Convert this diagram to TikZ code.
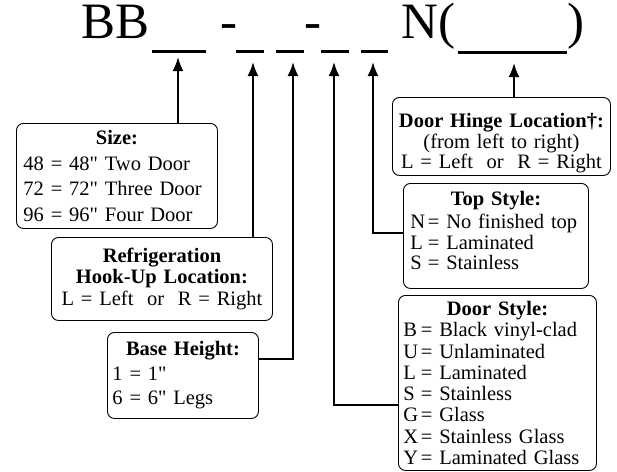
\documentclass[tikz,border=0pt]{standalone}
\usepackage{fontspec}
\setmainfont{Liberation Serif}[Ligatures=TeXOff]
\usepackage{tikz}
\usetikzlibrary{arrows.meta}
\colorlet{lineColor}{black}
\newcommand{\keyletter}[1]{\makebox[0.85em][l]{#1}=}

\begin{document}
\begin{tikzpicture}[x=1pt, y=-1pt,
    infobox/.style={draw=lineColor, rounded corners=7pt, line width=0.9pt, inner ysep=0pt, anchor=north west},
    blank/.style={draw=lineColor, line width=3pt},
    pointer/.style={draw=lineColor, line width=2pt, -{Latex[length=14pt, width=11pt]}},
    title/.style={anchor=base west, inner sep=0pt, font=\fontsize{51}{51}\selectfont}]
	\useasboundingbox (0,0) rectangle (617,471);

	% --- Bestellnummer ---
	\node[title] (bb) at (81,38) {BB};
	\node[title] (dashA) at (220,38) {-};
	\node[title] (dashB) at (304,38) {-};
	\node[title] (nOpen) at (401,38) {N(};
	\node[title] (nClose) at (567,38) {)};

	\draw[blank] (152,51.5) -- (206,51.5);
	\draw[blank] (236,51.5) -- (264,51.5);
	\draw[blank] (276,51.5) -- (304,51.5);
	\draw[blank] (321,51.5) -- (349,51.5);
	\draw[blank] (361,51.5) -- (388,51.5);
	\draw[blank] (458,52) -- (567,52);

	% --- Pfeilspitzen unter den Luecken ---
	\coordinate (tipSize) at (178,57);
	\coordinate (tipRefrig) at (253,62);
	\coordinate (tipBase) at (293,62);
	\coordinate (tipDoor) at (334,62);
	\coordinate (tipTop) at (373,62);
	\coordinate (tipHinge) at (514,63);

	% --- Kaesten ---
	\node[infobox, text width=187pt, inner xsep=7pt, minimum height=105pt, align=left,
		font=\fontsize{20.5}{25.5}\selectfont] (size) at (16,123)
		{{\centering\bfseries Size:\par}48 = 48" Two Door\\72 = 72" Three Door\\96 = 96" Four Door};

	\node[infobox, text width=217pt, inner xsep=2pt, minimum height=83pt, align=center,
		font=\fontsize{20.5}{21.5}\selectfont] (refrig) at (51,237)
		{\textbf{Refrigeration}\\\textbf{Hook-Up Location:}\\L = Left\ \ or\ \ R = Right};

	\node[infobox, text width=141pt, inner xsep=5pt, minimum height=86pt, align=left,
		font=\fontsize{20.5}{24.5}\selectfont] (base) at (107,332)
		{{\centering\bfseries Base Height:\par}1 = 1"\\6 = 6" Legs};

	\node[infobox, text width=216pt, inner xsep=1pt, minimum height=78pt, align=center,
		font=\fontsize{20.5}{20.5}\selectfont] (hinge) at (392,97)
		{\par\vskip 8pt\textbf{Door Hinge Location\textdagger:}\\(from left to right)\\L = Left\ \ or\ \ R = Right};

	\node[infobox, text width=171pt, inner xsep=7pt, minimum height=105pt, align=left,
		font=\fontsize{20.5}{20.5}\selectfont] (top) at (403,183)
		{\par\vskip -17pt{\centering\bfseries Top Style:\par}\vspace{3pt}\keyletter{N} No finished top\\\keyletter{L} Laminated\\\keyletter{S} Stainless};

	\node[infobox, text width=188pt, inner xsep=5pt, minimum height=175pt, align=left,
		font=\fontsize{20.5}{21.3}\selectfont] (door) at (398,295)
		{{\centering\bfseries Door Style:\par}\keyletter{B} Black vinyl-clad\\\keyletter{U} Unlaminated\\\keyletter{L} Laminated\\\keyletter{S} Stainless\\\keyletter{G} Glass\\\keyletter{X} Stainless Glass\\\keyletter{Y} Laminated Glass};

	% --- Verbindungen ---
	\draw[pointer] (size.north -| tipSize) -- (tipSize);
	\draw[pointer] (refrig.north -| tipRefrig) -- (tipRefrig);
	\draw[pointer] ([yshift=16pt]base.east) -| (tipBase);
	\draw[pointer] ([yshift=-22.5pt]door.west) -| (tipDoor);
	\draw[pointer] ([yshift=2.5pt]top.west) -| (tipTop);
	\draw[pointer] (hinge.north -| tipHinge) -- (tipHinge);

\end{tikzpicture}
\end{document}
